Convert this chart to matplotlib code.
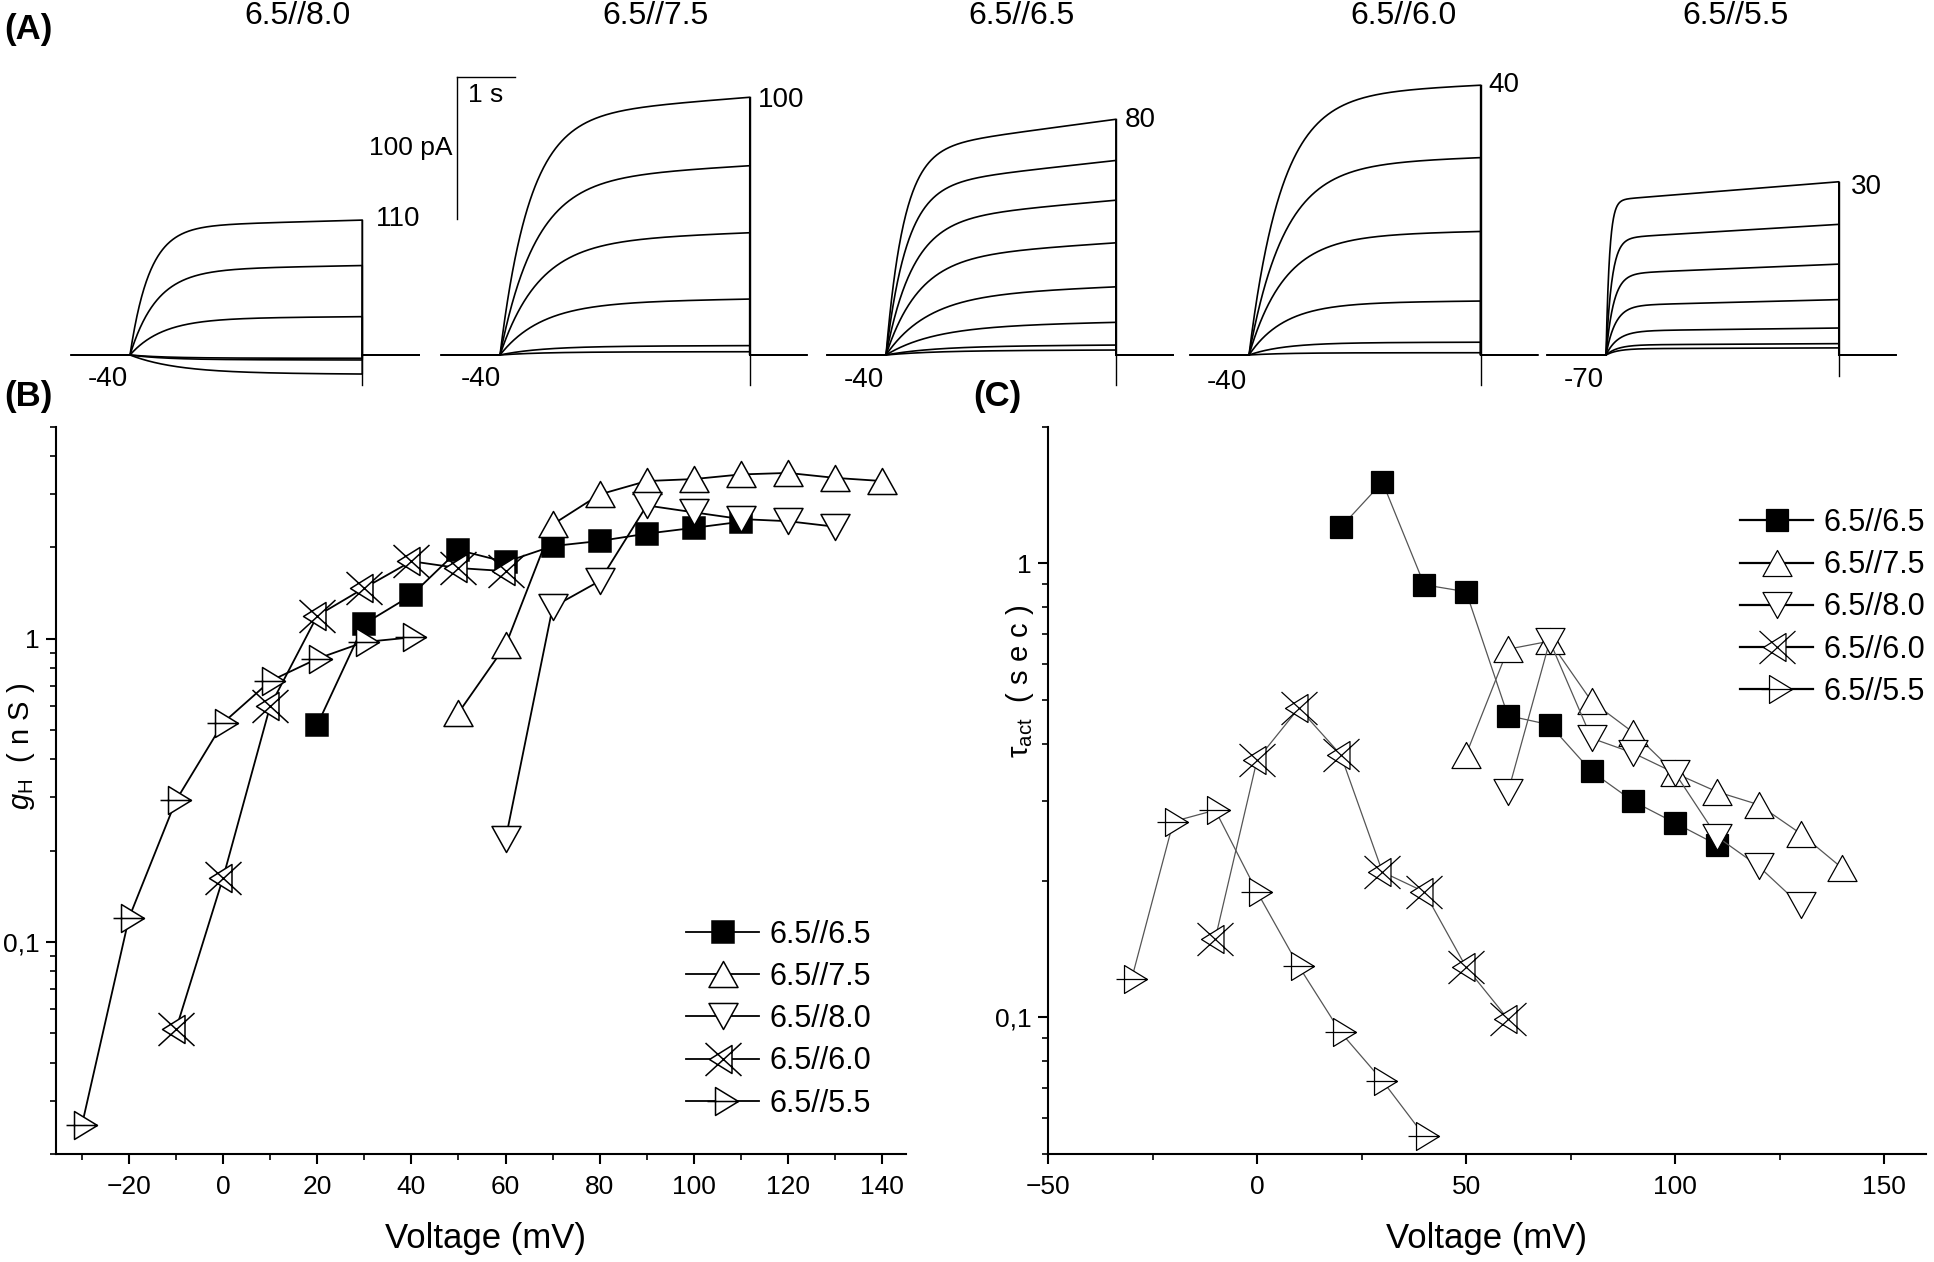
import numpy as np
import matplotlib

matplotlib.use("Agg")
import matplotlib.pyplot as plt
from matplotlib.path import Path
from matplotlib.ticker import LogLocator, MultipleLocator, FuncFormatter, NullFormatter

plt.rcParams["font.family"] = ["Liberation Sans", "DejaVu Sans"]
plt.rcParams["mathtext.fontset"] = "custom"
plt.rcParams["mathtext.rm"] = "Liberation Sans"
plt.rcParams["mathtext.it"] = "Liberation Sans:italic"

W, H = 1934, 1262

# ---------------- data: panel B (g_H, nS) ----------------
SERIES = ["6.5//6.5", "6.5//7.5", "6.5//8.0", "6.5//6.0", "6.5//5.5"]

b_v_66 = [20, 30, 40, 50, 60, 70, 80, 90, 100, 110]
b_g_66 = [0.52, 1.12, 1.39, 1.96, 1.79, 2.02, 2.10, 2.22, 2.32, 2.43]
b_v_75 = [50, 60, 70, 80, 90, 100, 110, 120, 130, 140]
b_g_75 = [0.57, 0.95, 2.38, 2.99, 3.31, 3.36, 3.48, 3.52, 3.39, 3.31]
b_v_80 = [60, 70, 80, 90, 100, 110, 120, 130]
b_g_80 = [0.218, 1.27, 1.55, 2.75, 2.61, 2.48, 2.44, 2.34]
b_v_60 = [-10, 0, 10, 20, 30, 40, 50, 60]
b_g_60 = [0.0516, 0.163, 0.60, 1.19, 1.47, 1.80, 1.71, 1.67]
b_v_55 = [-30, -20, -10, 0, 10, 20, 30, 40]
b_g_55 = [0.0249, 0.120, 0.293, 0.528, 0.725, 0.859, 0.975, 1.01]

# ---------------- data: panel C (tau_act, s) ----------------
c_v_66 = [20, 30, 40, 50, 60, 70, 80, 90, 100, 110]
c_t_66 = [1.20, 1.51, 0.897, 0.866, 0.462, 0.441, 0.348, 0.299, 0.268, 0.240]
c_v_75 = [50, 60, 70, 80, 90, 100, 110, 120, 130, 140]
c_t_75 = [0.379, 0.647, 0.674, 0.497, 0.424, 0.345, 0.314, 0.294, 0.254, 0.213]
c_v_80 = [60, 70, 80, 90, 100, 110, 120, 130]
c_t_80 = [0.313, 0.674, 0.412, 0.382, 0.345, 0.250, 0.215, 0.1765]
c_v_60 = [-10, 0, 10, 20, 30, 40, 50, 60]
c_t_60 = [0.149, 0.369, 0.48, 0.379, 0.209, 0.189, 0.129, 0.0992]
c_v_55 = [-30, -20, -10, 0, 10, 20, 30, 40]
c_t_55 = [0.1215, 0.27, 0.286, 0.189, 0.1295, 0.0927, 0.0725, 0.0548]

# ---------------- data: panel A (current traces) ----------------
A_TITLES = ["6.5//8.0", "6.5//7.5", "6.5//6.5", "6.5//6.0", "6.5//5.5"]
A_TOP_LABELS = ["110", "100", "80", "40", "30"]
A_BOTTOM_LABELS = ["-40", "-40", "-40", "-40", "-70"]
A_STEP_S = [3.97, 4.27, 3.93, 3.96, 3.98]          # step duration (s)
A_AMPS = [                                          # steady current (pA)
    [95, 63, 27, -2.3, -3.5, -13.4],
    [181.5, 133.3, 86.1, 39.4, 6.6, 2.3],
    [166, 137, 109, 79, 48, 23, 7, 3.5],
    [190, 139, 87, 38, 9, 1.6],
    [122, 92, 64, 39, 19, 8, 5],
]
A_TAUS = [                                          # activation time constant (s)
    [0.33, 0.45, 0.55, 0.6, 0.6, 0.8],
    [0.5, 0.6, 0.65, 0.7, 0.7, 0.7],
    [0.3, 0.35, 0.45, 0.55, 0.7, 0.8, 0.8, 0.8],
    [0.55, 0.6, 0.6, 0.6, 0.6, 0.6],
    [0.06, 0.1, 0.13, 0.16, 0.2, 0.2, 0.2],
]
A_DRIFT = [0.05, 0.08, 0.15, 0.04, 0.12]
A_TAIL_PA = [-21, -21, -21, -21, -15]


def px(x, y):
    return x / W, 1 - y / H


def make_marker(parts):
    verts, codes = [], []
    for pts, closed in parts:
        verts.append(pts[0])
        codes.append(Path.MOVETO)
        for p in pts[1:]:
            verts.append(p)
            codes.append(Path.LINETO)
        if closed:
            verts.append(pts[0])
            codes.append(Path.CLOSEPOLY)
    return Path(verts, codes)


M_UP = make_marker([([(0, 13), (-14.5, -13), (14.5, -13)], True)])
M_DOWN = make_marker([([(0, -13), (-14.5, 13), (14.5, 13)], True)])
M_XTRI = make_marker([
    ([(-14, 0), (8.5, 14), (8.5, -14)], True),
    ([(-18, -16.5), (18, 16.5)], False),
    ([(-18, 16.5), (18, -16.5)], False),
])
M_PTRI = make_marker([
    ([(-8, 14), (15, 0), (-8, -14)], True),
    ([(-16, 0), (15, 0)], False),
])
STYLES = [
    dict(marker="s", ms=16.2, mfc="black"),
    dict(marker=M_UP, ms=20.9, mfc="white"),
    dict(marker=M_DOWN, ms=20.9, mfc="white"),
    dict(marker=M_XTRI, ms=25.9, mfc="white"),
    dict(marker=M_PTRI, ms=23.0, mfc="white"),
]

fig = plt.figure(figsize=(W / 100, H / 100), dpi=100)

# ---------------- panel A ----------------
PX_S, PX_PA, BASE = 58.5, 1.42, 355
axa = fig.add_axes([0, 1 - 400 / H, 1, 400 / H])
axa.set_xlim(0, W / PX_S)
axa.set_ylim((BASE - 400) / PX_PA, BASE / PX_PA)
axa.axis("off")
onsets_px = [130, 500, 886, 1249, 1606]
title_px = [297, 656, 1022, 1404, 1736]
top_lab_px = [(376, 219), (758, 100), (1125, 120), (1488, 85), (1851, 187)]
bot_lab_px = [(108, 379), (481, 379), (864, 380), (1227, 382), (1584, 380)]
for i in range(5):
    t0 = onsets_px[i] / PX_S
    T = A_STEP_S[i]
    t = np.linspace(0, T, 500)
    for amp, tau in zip(A_AMPS[i], A_TAUS[i]):
        shape = (1 - np.exp(-t / tau)) * (1 + A_DRIFT[i] * t / T)
        shape = shape / shape[-1]
        xs = np.concatenate([[t0 - 1.0], t0 + t, [t0 + T, t0 + T + 0.97]])
        ys = np.concatenate([[0], amp * shape, [0, 0]])
        axa.plot(xs, ys, color="black", lw=1.2)
    axa.plot([t0 + T, t0 + T], [max(A_AMPS[i]), A_TAIL_PA[i]], color="black", lw=1.0)
    axa.text(title_px[i] / PX_S, (BASE - 16) / PX_PA, A_TITLES[i], ha="center",
             va="center", fontsize=23)
    axa.text(top_lab_px[i][0] / PX_S, (BASE - top_lab_px[i][1]) / PX_PA, A_TOP_LABELS[i],
             ha="left", va="center", fontsize=20)
    axa.text(bot_lab_px[i][0] / PX_S, (BASE - bot_lab_px[i][1]) / PX_PA, A_BOTTOM_LABELS[i],
             ha="center", va="center", fontsize=20)
# scale bar: 1 s, 100 pA
sx, sy = 456.5 / PX_S, (BASE - 77) / PX_PA
axa.plot([sx, sx + 1], [sy, sy], color="black", lw=1.0)
axa.plot([sx, sx], [sy, sy - 100], color="black", lw=1.0)
axa.text(sx + 0.2, sy - 13, "1 s", ha="left", va="center", fontsize=19)
axa.text(sx - 0.06, sy - 50, "100 pA", ha="right", va="center", fontsize=19)

fig.text(*px(4, 30), "(A)", fontsize=25, fontweight="bold", va="center", ha="left")
fig.text(*px(4, 397), "(B)", fontsize=25, fontweight="bold", va="center", ha="left")
fig.text(*px(973, 397), "(C)", fontsize=25, fontweight="bold", va="center", ha="left")


def style_axis(ax):
    for s in ["top", "right"]:
        ax.spines[s].set_visible(False)
    for s in ["left", "bottom"]:
        ax.spines[s].set_linewidth(1.5)
    ax.set_yscale("log")
    ax.yaxis.set_major_locator(LogLocator(base=10, numticks=10))
    ax.yaxis.set_minor_locator(LogLocator(base=10, subs=np.arange(2, 10), numticks=20))
    ax.yaxis.set_major_formatter(FuncFormatter(lambda v, p: "1" if abs(v - 1) < 1e-9 else ("0,1" if abs(v - 0.1) < 1e-9 else "")))
    ax.yaxis.set_minor_formatter(NullFormatter())
    ax.tick_params(which="major", direction="out", length=7, width=1.5, labelsize=19, pad=5)
    ax.tick_params(which="minor", direction="out", length=4.5, width=1.2)
    ax.tick_params(axis="x", which="major", pad=8)


LEG = dict(loc="upper left", frameon=False, fontsize=22, numpoints=1, handlelength=2.4,
           handletextpad=0.33, labelspacing=0.4, borderpad=0, borderaxespad=0,
           bbox_transform=fig.transFigure)

# ---------------- panel B ----------------
axb = fig.add_axes([56 / W, 1 - 1154 / H, (905.7 - 56) / W, (1154 - 426.7) / H])
style_axis(axb)
b_data = [(b_v_66, b_g_66), (b_v_75, b_g_75), (b_v_80, b_g_80), (b_v_60, b_g_60), (b_v_55, b_g_55)]
for (v, g), name, st in zip(b_data, SERIES, STYLES):
    axb.plot(v, g, color="black", lw=1.3, mec="black", mew=1.1, label=name, **st)
axb.set_xlim(-35.5, 145)
axb.set_ylim(0.02, 5)
axb.xaxis.set_major_locator(MultipleLocator(20))
axb.xaxis.set_minor_locator(MultipleLocator(10))
axb.set_xlabel("Voltage (mV)", fontsize=25)
axb.xaxis.set_label_coords(0.506, -0.093)
axb.set_ylabel("$g_{\\mathrm{H}}$  ( n S )", fontsize=21)
axb.yaxis.set_label_coords(-0.022, 0.56)
axb.legend(bbox_to_anchor=px(686, 931.7 - 12), **LEG)

# ---------------- panel C ----------------
axc = fig.add_axes([1048 / W, 1 - 1154 / H, (1926 - 1048) / W, (1154 - 426.7) / H])
style_axis(axc)
c_data = [(c_v_66, c_t_66), (c_v_75, c_t_75), (c_v_80, c_t_80), (c_v_60, c_t_60), (c_v_55, c_t_55)]
for (v, tt), name, st in zip(c_data, SERIES, STYLES):
    axc.plot(v, tt, color="#555555", lw=0.9, mec="black", mew=0.9, label=name, **st)
axc.set_xlim(-50, 160)
axc.set_ylim(0.05, 2)
axc.xaxis.set_major_locator(MultipleLocator(50))
axc.xaxis.set_minor_locator(MultipleLocator(25))
axc.set_xlabel("Voltage (mV)", fontsize=25)
axc.xaxis.set_label_coords(0.499, -0.093)
axc.set_ylabel("τ$_{\\mathrm{act}}$  ( s e c )", fontsize=21)
axc.yaxis.set_label_coords(-0.014, 0.65)
leg = axc.legend(bbox_to_anchor=px(1740, 520 - 12), **LEG)
for ln in leg.get_lines():
    ln.set_color("black")
    ln.set_linewidth(1.6)

fig.savefig("out.png", dpi=100)
